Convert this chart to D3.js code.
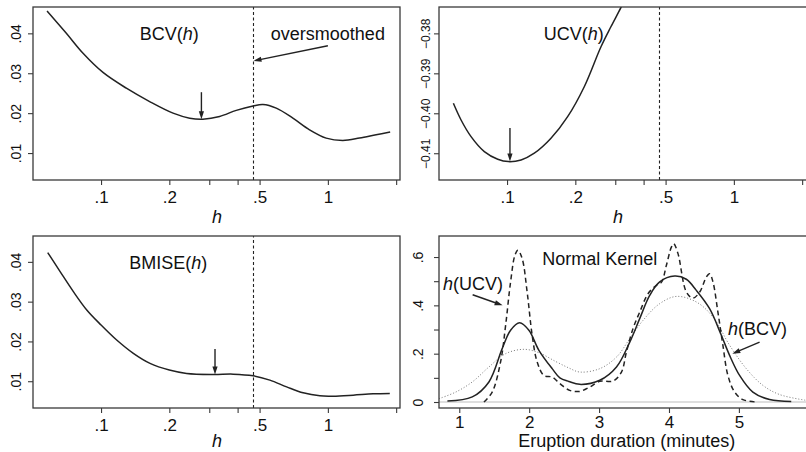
<!DOCTYPE html>
<html>
<head>
<meta charset="utf-8">
<script src="https://cdn.jsdelivr.net/npm/d3@7"></script>
<style>
  body { margin: 0; background: #fff; }
  svg { display: block; }
  text { font-family: "Liberation Sans", Arial, Helvetica, sans-serif; fill: #111; }
</style>
</head>
<body>
<svg id="fig" width="806" height="452"></svg>
<script>
// ---- data ----
// BCV(h) criterion against bandwidth h (log axis)
var bcvH = [0.0578, 0.0703, 0.0833, 0.102, 0.1293, 0.1638, 0.2077, 0.246, 0.2813, 0.3333, 0.3945, 0.468, 0.5173, 0.5923, 0.701, 0.830, 0.983, 1.164, 1.379, 1.632, 1.882];
var bcvV = [0.0456, 0.0400, 0.0350, 0.0302, 0.02625, 0.0229, 0.0200, 0.01875, 0.0185, 0.01916, 0.0207, 0.0218, 0.02216, 0.02125, 0.01875, 0.01583, 0.01375, 0.01316, 0.01375, 0.01458, 0.01525];
// UCV(h)
var ucvH = [0.058, 0.0627, 0.0694, 0.0794, 0.0910, 0.1013, 0.1153, 0.1319, 0.1562, 0.185, 0.219, 0.2595, 0.287, 0.318, 0.34];
var ucvV = [-0.3975, -0.40168, -0.40585, -0.4096, -0.4115, -0.4121, -0.41168, -0.4100, -0.40625, -0.40085, -0.39335, -0.38335, -0.37835, -0.3735, -0.370];
// BMISE(h)
var bmiseH = [0.0582, 0.066, 0.0755, 0.0865, 0.1, 0.1172, 0.1388, 0.1644, 0.2, 0.2384, 0.3125, 0.3826, 0.4687, 0.555, 0.658, 0.778, 0.922, 1.055, 1.293, 1.583, 1.875];
var bmiseV = [0.04234, 0.03756, 0.03252, 0.02791, 0.02413, 0.02035, 0.0170, 0.01448, 0.0128, 0.01196, 0.0117, 0.01178, 0.01136, 0.01028, 0.00859, 0.00708, 0.00632, 0.00625, 0.0065, 0.00683, 0.00693];
var hOversmoothed = 0.47;
var hMinBCV = 0.277, hMinUCV = 0.103, hMinBMISE = 0.318;

// kernel density estimates of eruption duration
var kdeBcvX = [0.83, 1.186, 1.424, 1.614, 1.734, 1.863, 1.996, 2.139, 2.329, 2.439, 2.567, 2.724, 3.01, 3.249, 3.439, 3.581, 3.724, 3.867, 4.081, 4.248, 4.391, 4.581, 4.749, 4.867, 5.01, 5.2, 5.439, 5.749];
var kdeBcvY = [0.004, 0.021, 0.083, 0.221, 0.297, 0.328, 0.297, 0.214, 0.138, 0.100, 0.085, 0.073, 0.090, 0.145, 0.248, 0.345, 0.441, 0.497, 0.521, 0.508, 0.462, 0.386, 0.276, 0.193, 0.110, 0.041, 0.010, 0.002];
var kdeUcvX = [1.353, 1.471, 1.591, 1.663, 1.734, 1.796, 1.839, 1.9, 1.971, 2.043, 2.114, 2.21, 2.329, 2.439, 2.58, 2.724, 2.867, 3.01, 3.2, 3.32, 3.391, 3.486, 3.581, 3.7, 3.82, 3.891, 3.963, 4.034, 4.067, 4.129, 4.249, 4.343, 4.439, 4.534, 4.581, 4.629, 4.7, 4.771, 4.843, 4.939, 5.057, 5.249];
var kdeUcvY = [0.0, 0.041, 0.166, 0.317, 0.497, 0.607, 0.628, 0.593, 0.455, 0.276, 0.166, 0.110, 0.103, 0.076, 0.048, 0.044, 0.062, 0.086, 0.087, 0.124, 0.207, 0.304, 0.372, 0.448, 0.483, 0.495, 0.566, 0.641, 0.655, 0.614, 0.455, 0.430, 0.455, 0.517, 0.531, 0.497, 0.372, 0.235, 0.110, 0.041, 0.010, 0.0];
var kdeOsX = [0.71, 0.949, 1.186, 1.424, 1.663, 1.924, 2.139, 2.377, 2.567, 2.724, 3.01, 3.249, 3.439, 3.629, 3.867, 4.106, 4.391, 4.629, 4.867, 5.106, 5.343, 5.581, 5.96];
var kdeOsY = [0.014, 0.041, 0.083, 0.145, 0.200, 0.218, 0.204, 0.168, 0.141, 0.124, 0.138, 0.186, 0.262, 0.338, 0.407, 0.437, 0.414, 0.352, 0.235, 0.138, 0.069, 0.031, 0.007];

// ticks
var hTicks = [0.1, 0.2, 0.3, 0.4, 0.5, 1, 2];
var hTickLabels = [".1", ".2", "", "", ".5", "1", ""];
var critTicks = [0.01, 0.02, 0.03, 0.04];
var critTickLabels = [".01", ".02", ".03", ".04"];
var ucvTicks = [-0.41, -0.40, -0.39, -0.38];
var ucvTickLabels = ["\u22120.41", "\u22120.40", "\u22120.39", "\u22120.38"];
var durTicks = [1, 2, 3, 4, 5];
var densTicks = [0, 0.1, 0.2, 0.3, 0.4, 0.5, 0.6];
var densTickLabels = ["0", "", ".2", "", ".4", "", ".6"];

// ---- drawing ----
var svg = d3.select("#fig");
var INK = "#222", FRAME = "#3a3a3a";

function pts(xs, ys) { return xs.map(function (x, i) { return [x, ys[i]]; }); }

function hScale(x0, x1) {
  return d3.scaleLog().domain([Math.pow(10, -1.30), Math.pow(10, 0.318)]).range([x0, x1]);
}

function panel(o) {
  var g = svg.append("g");
  var id = "clip" + o.id;
  svg.append("clipPath").attr("id", id).append("rect")
    .attr("x", o.x0).attr("y", o.y0).attr("width", o.x1 - o.x0).attr("height", o.y1 - o.y0);
  var plot = g.append("g").attr("clip-path", "url(#" + id + ")");

  // x axis
  var xa = g.append("g").attr("transform", "translate(0," + o.y1 + ")")
    .call(d3.axisBottom(o.x).tickValues(o.xTicks).tickSize(5).tickPadding(3)
      .tickFormat(function (d, i) { return o.xLabels[i]; }));
  xa.select(".domain").remove();
  xa.selectAll("line").attr("stroke", FRAME).attr("stroke-width", 1.1);
  xa.selectAll("text").attr("font-size", 17).attr("dy", 0).attr("y", o.xLabY)
    .style("font-family", '"Liberation Sans", Arial, sans-serif').attr("fill", INK);

  // y axis, labels parallel to the axis
  var ya = g.append("g").attr("transform", "translate(" + o.x0 + ",0)")
    .call(d3.axisLeft(o.y).tickValues(o.yTicks).tickSize(5)
      .tickFormat(function (d, i) { return o.yLabels[i]; }));
  ya.select(".domain").remove();
  ya.selectAll("line").attr("stroke", FRAME).attr("stroke-width", 1.1);
  ya.selectAll("text").attr("font-size", o.yFont).attr("x", 0).attr("y", -o.yLabD).attr("dy", 0)
    .attr("text-anchor", "middle").attr("transform", "rotate(-90)")
    .style("font-family", '"Liberation Sans", Arial, sans-serif').attr("fill", INK);

  // frame
  g.append("rect").attr("x", o.x0).attr("y", o.y0).attr("width", o.x1 - o.x0).attr("height", o.y1 - o.y0)
    .attr("fill", "none").attr("stroke", FRAME).attr("stroke-width", 1.3);

  return plot;
}

function curve(plot, x, y, data, style) {
  var line = d3.line().x(function (d) { return x(d[0]); }).y(function (d) { return y(d[1]); })
    .curve(d3.curveCatmullRom.alpha(0.5));
  plot.append("path").attr("d", line(data)).attr("fill", "none")
    .attr("stroke", style.color || INK).attr("stroke-width", style.width || 1.5)
    .attr("stroke-dasharray", style.dash || null).attr("stroke-linejoin", "round");
}

function arrow(g, x1, y1, x2, y2) {
  var a = Math.atan2(y2 - y1, x2 - x1), L = 8, w = 2.6;
  g.append("line").attr("x1", x1).attr("y1", y1)
    .attr("x2", x2 - Math.cos(a) * 4).attr("y2", y2 - Math.sin(a) * 4)
    .attr("stroke", INK).attr("stroke-width", 1.4);
  var bx = x2 - Math.cos(a) * L, by = y2 - Math.sin(a) * L;
  g.append("path")
    .attr("d", "M" + x2 + "," + y2 + "L" + (bx - Math.sin(a) * w) + "," + (by + Math.cos(a) * w) +
      "L" + (bx + Math.sin(a) * w) + "," + (by - Math.cos(a) * w) + "Z")
    .attr("fill", INK);
}

function label(g, x, y, parts, size) {
  var t = g.append("text").attr("x", x).attr("y", y).attr("text-anchor", "middle").attr("font-size", size || 18);
  parts.forEach(function (p) {
    var s = t.append("tspan").text(p[0]);
    if (p[1]) s.attr("font-style", "italic");
  });
  return t;
}

function vline(plot, x, y, h) {
  plot.append("line").attr("x1", x(h)).attr("x2", x(h)).attr("y1", y.range()[0]).attr("y2", y.range()[1])
    .attr("stroke", INK).attr("stroke-width", 1.1).attr("stroke-dasharray", "3,2.5");
}

// panel 1: BCV
(function () {
  var x = hScale(33, 400), y = d3.scaleLinear().domain([0.00325, 0.0466]).range([180, 7]);
  var p = panel({ id: 1, x0: 33, x1: 400, y0: 7, y1: 180, x: x, y: y,
    xTicks: hTicks, xLabels: hTickLabels, xLabY: 22.7,
    yTicks: critTicks, yLabels: critTickLabels, yFont: 14, yLabD: 12.3 });
  vline(p, x, y, hOversmoothed);
  curve(p, x, y, pts(bcvH, bcvV), {});
  arrow(svg, x(hMinBCV), y(0.02525), x(hMinBCV), y(0.0185));
  arrow(svg, x(1.0), y(0.0369), x(hOversmoothed), y(0.0331));
  label(svg, x(0.2), y(0.0383), [["BCV("], ["h", 1], [")"]]);
  label(svg, x(1.0), y(0.0383), [["oversmoothed"]]);
  label(svg, 217, 222.5, [["h", 1]]);
})();

// panel 2: UCV
(function () {
  var x = hScale(439, 806), y = d3.scaleLinear().domain([-0.4167, -0.3734]).range([180, 7]);
  var p = panel({ id: 2, x0: 439, x1: 807, y0: 7, y1: 180, x: x, y: y,
    xTicks: hTicks, xLabels: hTickLabels, xLabY: 22.7,
    yTicks: ucvTicks, yLabels: ucvTickLabels, yFont: 12, yLabD: 9 });
  vline(p, x, y, hOversmoothed);
  curve(p, x, y, pts(ucvH, ucvV), {});
  arrow(svg, x(hMinUCV), y(-0.40368), x(hMinUCV), y(-0.4121));
  label(svg, x(0.197), y(-0.38168), [["UCV("], ["h", 1], [")"]]);
  label(svg, 618, 222.5, [["h", 1]]);
})();

// panel 3: BMISE
(function () {
  var x = hScale(33, 400), y = d3.scaleLinear().domain([0.00327, 0.0465]).range([408, 236]);
  var p = panel({ id: 3, x0: 33, x1: 400, y0: 236, y1: 408, x: x, y: y,
    xTicks: hTicks, xLabels: hTickLabels, xLabY: 22.7,
    yTicks: critTicks, yLabels: critTickLabels, yFont: 14, yLabD: 12.3 });
  vline(p, x, y, hOversmoothed);
  curve(p, x, y, pts(bmiseH, bmiseV), {});
  arrow(svg, x(hMinBMISE), y(0.01809), x(hMinBMISE), y(0.01171));
  label(svg, x(0.198), y(0.03824), [["BMISE("], ["h", 1], [")"]]);
  label(svg, 217, 447, [["h", 1]]);
})();

// panel 4: densities
(function () {
  var x = d3.scaleLinear().domain([0.71, 5.96]).range([439, 806]);
  var y = d3.scaleLinear().domain([-0.0248, 0.687]).range([408, 236]);
  var p = panel({ id: 4, x0: 439, x1: 807, y0: 236, y1: 408, x: x, y: y,
    xTicks: durTicks, xLabels: durTicks.map(String), xLabY: 20.3,
    yTicks: densTicks, yLabels: densTickLabels, yFont: 14, yLabD: 16 });
  p.append("line").attr("x1", 439).attr("x2", 807).attr("y1", y(0)).attr("y2", y(0))
    .attr("stroke", "#bdbdbd").attr("stroke-width", 1);
  curve(p, x, y, pts(kdeOsX, kdeOsY), { color: "#777", width: 1, dash: "1,2" });
  curve(p, x, y, pts(kdeUcvX, kdeUcvY), { dash: "5,3.5" });
  curve(p, x, y, pts(kdeBcvX, kdeBcvY), {});
  arrow(svg, x(1.191), y(0.444), x(1.62), y(0.400));
  arrow(svg, x(5.296), y(0.248), x(4.906), y(0.200));
  label(svg, x(3.01), y(0.566), [["Normal Kernel"]]);
  label(svg, x(1.196), y(0.462), [["h", 1], ["(UCV)"]]);
  label(svg, x(5.267), y(0.276), [["h", 1], ["(BCV)"]]);
  label(svg, 626.7, 447, [["Eruption duration (minutes)"]]);
})();
</script>
</body>
</html>
